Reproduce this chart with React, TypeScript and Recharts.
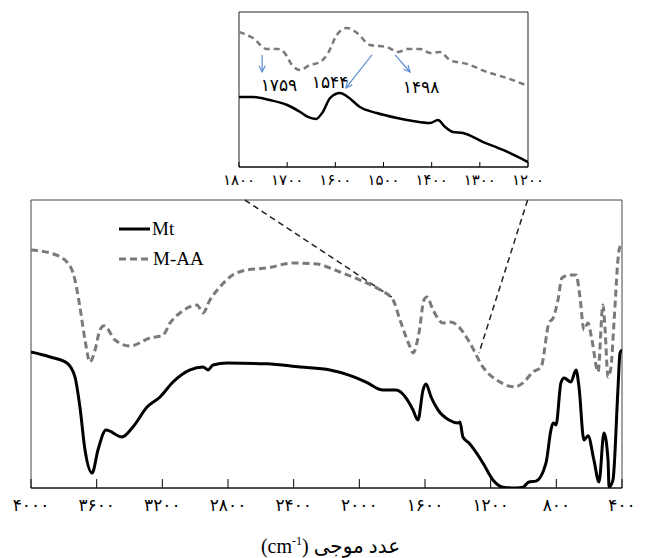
import React from "react";
import {
  LineChart,
  Line,
  XAxis,
  YAxis,
  ReferenceLine,
  ReferenceArea,
  ReferenceDot,
  Legend,
  Label,
} from "recharts";

// FTIR spectra: Mt and M-AA (transmittance, arbitrary units)
const mtWave = [4000, 3884, 3781, 3732, 3702, 3671, 3628, 3592, 3543, 3446, 3379, 3293, 3214, 3135, 3031, 2952, 2922, 2891, 2806, 2562, 2361, 2179, 2063, 1959, 1856, 1777, 1716, 1673, 1643, 1612, 1594, 1563, 1521, 1454, 1399, 1387, 1369, 1332, 1247, 1186, 1125, 1046, 1003, 967, 924, 863, 833, 820, 802, 772, 753, 711, 680, 662, 632, 607, 571, 540, 510, 485, 479, 455, 425, 412, 400];
const mtValue = [47.2, 45.5, 43.4, 38.5, 28.1, 13.2, 5.2, 13.2, 20.1, 17.7, 21.2, 28.1, 31.6, 36.8, 41.0, 42.0, 41.0, 42.7, 43.4, 43.1, 42.0, 41.0, 39.2, 36.8, 34.0, 34.0, 31.3, 27.1, 23.6, 34.0, 36.1, 31.6, 27.1, 23.6, 22.6, 22.9, 17.7, 15.6, 8.7, 2.8, 0.3, 0, 0.3, 2.1, 2.4, 8.7, 20.1, 22.6, 21.9, 36.5, 38.2, 36.8, 41.0, 35.1, 16.7, 18.1, 9.7, 2.1, 19.1, 9.7, 0.3, 2.8, 34.0, 46.9, 47.9];

const maaWave = [4000, 3884, 3781, 3732, 3702, 3671, 3641, 3610, 3580, 3555, 3488, 3397, 3275, 3196, 3153, 3092, 2989, 2952, 2910, 2849, 2788, 2684, 2562, 2404, 2258, 2179, 2118, 1996, 1874, 1795, 1752, 1691, 1673, 1637, 1606, 1588, 1551, 1490, 1442, 1393, 1326, 1247, 1143, 1052, 1003, 942, 893, 845, 820, 790, 766, 717, 680, 656, 632, 607, 583, 546, 516, 504, 485, 467, 449, 418, 406];
const maaValue = [82.6, 81.6, 78.5, 72.2, 62.8, 51.4, 43.8, 47.9, 54.9, 56.3, 51.4, 49.3, 52.1, 53.1, 57.3, 60.8, 63.5, 60.8, 65.3, 69.8, 73.3, 75.7, 76.4, 78.1, 77.8, 76.4, 75.0, 72.2, 68.8, 65.3, 58.3, 49.0, 46.9, 53.8, 65.3, 66.3, 61.8, 57.3, 57.6, 55.9, 50.3, 42.0, 36.8, 35.1, 36.5, 40.3, 42.0, 57.3, 59.0, 65.3, 72.9, 74.0, 74.0, 66.3, 54.9, 57.3, 51.4, 40.3, 63.5, 55.9, 38.5, 42.0, 57.3, 82.6, 84.4];

// inset: 1800-1200 cm-1
const insetMtWave = [1800, 1771, 1736, 1700, 1673, 1657, 1640, 1626, 1611, 1590, 1574, 1549, 1514, 1472, 1439, 1403, 1387, 1372, 1356, 1335, 1293, 1252, 1200];
const insetMtValue = [45.2, 45.2, 43.2, 40.0, 35.5, 32.3, 31.0, 35.5, 44.5, 47.7, 45.2, 38.7, 34.8, 31.6, 29.7, 28.4, 30.3, 25.8, 22.6, 21.9, 16.1, 11.0, 3.2];
const insetMaaWave = [1800, 1771, 1742, 1719, 1705, 1690, 1673, 1653, 1632, 1615, 1597, 1576, 1555, 1528, 1493, 1470, 1451, 1424, 1403, 1383, 1362, 1327, 1285, 1244, 1200];
const insetMaaValue = [87.1, 83.2, 76.1, 76.1, 73.5, 65.8, 62.6, 65.8, 67.7, 73.5, 85.2, 89.7, 86.5, 78.7, 77.4, 74.2, 76.1, 76.1, 73.5, 74.2, 69.0, 66.5, 61.3, 57.4, 52.3];

const mainTicks = [4000, 3600, 3200, 2800, 2400, 2000, 1600, 1200, 800, 400];
const insetTicks = [1800, 1700, 1600, 1500, 1400, 1300, 1200];

// peak annotations in the inset
const peakLabels = [1759, 1544, 1498];
const peakLabelPos = [
  { w: 1717, v: 52.9 },
  { w: 1611, v: 54.8 },
  { w: 1422, v: 51.6 },
];
const peakArrows = [
  { from: { x: 1752, y: 72.3 }, to: { x: 1752, y: 61.3 } },
  { from: { x: 1524, y: 72.3 }, to: { x: 1578, y: 51 } },
  { from: { x: 1476, y: 72.3 }, to: { x: 1445, y: 61.3 } },
];

// zoom guide lines (main chart coords)
const guideLines = [
  [{ x: 2697, y: 100 }, { x: 1795, y: 66 }],
  [{ x: 975, y: 100 }, { x: 1271, y: 46.9 }],
];

const toData = (w: number[], v: number[]) => w.map((x, i) => ({ w: x, v: v[i] }));
const fa = (n: number | string) => String(n).replace(/\d/g, (d) => "۰۱۲۳۴۵۶۷۸۹"[+d]);

const mtData = toData(mtWave, mtValue);
const maaData = toData(maaWave, maaValue);
const insetMtData = toData(insetMtWave, insetMtValue);
const insetMaaData = toData(insetMaaWave, insetMaaValue);

const SERIF = "'Liberation Serif', 'Times New Roman', 'DejaVu Sans', serif";
const FA_FONT = "'DejaVu Sans', 'Liberation Serif', serif";

const ArrowShape = (props: any) => {
  const { x1, y1, x2, y2 } = props;
  const a = Math.atan2(y2 - y1, x2 - x1);
  const h = 7;
  const p1x = x2 - h * Math.cos(a - 0.45);
  const p1y = y2 - h * Math.sin(a - 0.45);
  const p2x = x2 - h * Math.cos(a + 0.45);
  const p2y = y2 - h * Math.sin(a + 0.45);
  return (
    <g stroke="#5b8fd0" strokeWidth={1.2} fill="none">
      <line x1={x1} y1={y1} x2={x2} y2={y2} />
      <path d={`M${p1x},${p1y} L${x2},${y2} L${p2x},${p2y}`} />
    </g>
  );
};

const LegendContent = () => (
  <div style={{ fontFamily: SERIF, fontSize: 19, color: "#000", lineHeight: "30px" }}>
    <div style={{ display: "flex", alignItems: "center" }}>
      <svg width={33} height={8}>
        <line x1={0} y1={4} x2={31} y2={4} stroke="#000" strokeWidth={3} />
      </svg>
      <span>Mt</span>
    </div>
    <div style={{ display: "flex", alignItems: "center" }}>
      <svg width={34} height={8}>
        <line x1={0} y1={4} x2={32} y2={4} stroke="#7a7a7a" strokeWidth={3} strokeDasharray="7 4" />
      </svg>
      <span>M-AA</span>
    </div>
  </div>
);

const AxisTitle = (props: any) => {
  const { viewBox } = props;
  const cx = viewBox.x + viewBox.width / 2 + 4;
  const y = viewBox.y + 65;
  return (
    <text x={cx} y={y} textAnchor="middle" fontFamily={SERIF} fontSize={20} fill="#000">
      (cm
      <tspan dy={-8} fontSize={12}>-1</tspan>
      <tspan dy={8}>) عدد موجی</tspan>
    </text>
  );
};

export default function App() {
  return (
    <div style={{ position: "absolute", left: 0, top: 0, width: 646, height: 558, background: "#fff" }}>
      {/* main spectrum */}
      <div style={{ position: "absolute", left: 0, top: 190 }}>
        <LineChart width={646} height={368} margin={{ top: 10, right: 24, left: 31, bottom: 0 }}>
          <XAxis
            dataKey="w"
            type="number"
            domain={[400, 4000]}
            reversed
            ticks={mainTicks}
            interval={0}
            tickFormatter={fa}
            tickLine={false}
            tickSize={0}
            tickMargin={11}
            height={70}
            stroke="#000"
            tick={{ fontSize: 17, fill: "#000", fontFamily: FA_FONT }}
            allowDataOverflow
          >
            <Label content={AxisTitle} />
          </XAxis>
          <YAxis hide type="number" domain={[0, 100]} allowDataOverflow />
          <ReferenceArea x1={4000} x2={400} y1={0} y2={100} fill="none" stroke="#444" strokeWidth={1} ifOverflow="visible" />
          {mainTicks.map((t) => (
            <ReferenceLine key={t} segment={[{ x: t, y: 0 }, { x: t, y: 3.1 }]} stroke="#000" strokeWidth={1} ifOverflow="visible" />
          ))}
          {guideLines.map((seg, i) => (
            <ReferenceLine key={`g${i}`} segment={seg} stroke="#222" strokeWidth={1.5} strokeDasharray="6 4" ifOverflow="visible" />
          ))}
          <Line data={maaData} dataKey="v" name="M-AA" type="monotone" stroke="#7a7a7a" strokeWidth={3} strokeDasharray="7 4" dot={false} isAnimationActive={false} />
          <Line data={mtData} dataKey="v" name="Mt" type="monotone" stroke="#000" strokeWidth={3} dot={false} isAnimationActive={false} />
          <Legend
            layout="vertical"
            align="center"
            verticalAlign="middle"
            content={<LegendContent />}
            wrapperStyle={{ position: "absolute", top: 24, left: 119, width: "auto" }}
          />
        </LineChart>
      </div>

      {/* inset 1800-1200 */}
      <div style={{ position: "absolute", left: 0, top: 0 }}>
        <LineChart width={646} height={200} margin={{ top: 12, right: 118, left: 239, bottom: 0 }}>
          <XAxis
            dataKey="w"
            type="number"
            domain={[1200, 1800]}
            reversed
            ticks={insetTicks}
            interval={0}
            tickFormatter={fa}
            tickLine={false}
            tickSize={0}
            tickMargin={7}
            height={33}
            stroke="#000"
            tick={{ fontSize: 15, fill: "#000", fontFamily: FA_FONT }}
            allowDataOverflow
          />
          <YAxis hide type="number" domain={[0, 100]} allowDataOverflow />
          <ReferenceArea x1={1800} x2={1200} y1={0} y2={100} fill="none" stroke="#222" strokeWidth={1} ifOverflow="visible" />
          {insetTicks.map((t) => (
            <ReferenceLine key={t} segment={[{ x: t, y: 0 }, { x: t, y: 3.2 }]} stroke="#000" strokeWidth={1} ifOverflow="visible" />
          ))}
          <Line data={insetMaaData} dataKey="v" type="monotone" stroke="#7a7a7a" strokeWidth={2.5} strokeDasharray="6 4" dot={false} isAnimationActive={false} />
          <Line data={insetMtData} dataKey="v" type="monotone" stroke="#000" strokeWidth={2.5} dot={false} isAnimationActive={false} />
          {peakArrows.map((a, i) => (
            <ReferenceLine key={`a${i}`} segment={[a.from, a.to]} shape={ArrowShape} ifOverflow="visible" />
          ))}
          {peakLabels.map((p, i) => (
            <ReferenceDot
              key={p}
              x={peakLabelPos[i].w}
              y={peakLabelPos[i].v}
              r={0}
              fill="none"
              stroke="none"
              label={{ value: fa(p), position: "center", fontSize: 17, fill: "#000", fontFamily: FA_FONT }}
            />
          ))}
        </LineChart>
      </div>
    </div>
  );
}
